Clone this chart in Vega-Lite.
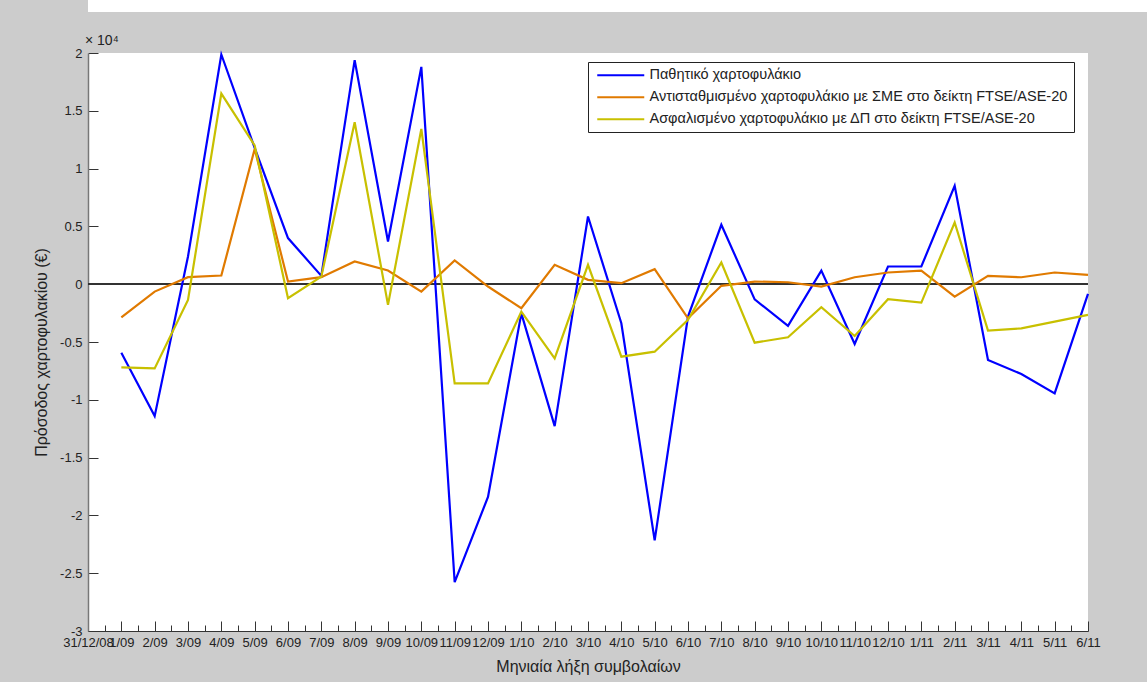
{
  "$schema": "https://vega.github.io/schema/vega-lite/v6.json",
  "background": "#cccccc",
  "padding": {"left": 33, "top": 0, "right": 0, "bottom": 8},
  "spacing": 22,
  "config": {"font": "Liberation Sans"},
  "resolve": {"legend": {"color": "independent"}},
  "vconcat": [
    {
      "width": 1060,
      "height": 12,
      "view": {"fill": "white", "stroke": null},
      "data": {"values": []},
      "mark": "point"
    },
    {
      "width": 1000,
      "height": 578,
      "view": {"fill": "white", "stroke": null},
      "title": {
        "text": "× 10⁴",
        "anchor": "start",
        "frame": "group",
        "fontSize": 14,
        "fontWeight": "normal",
        "color": "#222222",
        "offset": -1,
        "dx": -3
      },
      "data": {
        "values": [
          {"idx": 1, "month": "1/09", "Παθητικό χαρτοφυλάκιο": -5930, "Αντισταθμισμένο χαρτοφυλάκιο με ΣΜΕ στο δείκτη FTSE/ASE-20": -2860, "Ασφαλισμένο χαρτοφυλάκιο με ΔΠ στο δείκτη FTSE/ASE-20": -7190},
          {"idx": 2, "month": "2/09", "Παθητικό χαρτοφυλάκιο": -11410, "Αντισταθμισμένο χαρτοφυλάκιο με ΣΜΕ στο δείκτη FTSE/ASE-20": -640, "Ασφαλισμένο χαρτοφυλάκιο με ΔΠ στο δείκτη FTSE/ASE-20": -7280},
          {"idx": 3, "month": "3/09", "Παθητικό χαρτοφυλάκιο": 2400, "Αντισταθμισμένο χαρτοφυλάκιο με ΣΜΕ στο δείκτη FTSE/ASE-20": 610, "Ασφαλισμένο χαρτοφυλάκιο με ΔΠ στο δείκτη FTSE/ASE-20": -1360},
          {"idx": 4, "month": "4/09", "Παθητικό χαρτοφυλάκιο": 19870, "Αντισταθμισμένο χαρτοφυλάκιο με ΣΜΕ στο δείκτη FTSE/ASE-20": 750, "Ασφαλισμένο χαρτοφυλάκιο με ΔΠ στο δείκτη FTSE/ASE-20": 16490},
          {"idx": 5, "month": "5/09", "Παθητικό χαρτοφυλάκιο": 11800, "Αντισταθμισμένο χαρτοφυλάκιο με ΣΜΕ στο δείκτη FTSE/ASE-20": 11700, "Ασφαλισμένο χαρτοφυλάκιο με ΔΠ στο δείκτη FTSE/ASE-20": 12000},
          {"idx": 6, "month": "6/09", "Παθητικό χαρτοφυλάκιο": 3990, "Αντισταθμισμένο χαρτοφυλάκιο με ΣΜΕ στο δείκτη FTSE/ASE-20": 230, "Ασφαλισμένο χαρτοφυλάκιο με ΔΠ στο δείκτη FTSE/ASE-20": -1210},
          {"idx": 7, "month": "7/09", "Παθητικό χαρτοφυλάκιο": 720, "Αντισταθμισμένο χαρτοφυλάκιο με ΣΜΕ στο δείκτη FTSE/ASE-20": 610, "Ασφαλισμένο χαρτοφυλάκιο με ΔΠ στο δείκτη FTSE/ASE-20": 660},
          {"idx": 8, "month": "8/09", "Παθητικό χαρτοφυλάκιο": 19380, "Αντισταθμισμένο χαρτοφυλάκιο με ΣΜΕ στο δείκτη FTSE/ASE-20": 1960, "Ασφαλισμένο χαρτοφυλάκιο με ΔΠ στο δείκτη FTSE/ASE-20": 14010},
          {"idx": 9, "month": "9/09", "Παθητικό χαρτοφυλάκιο": 3700, "Αντισταθμισμένο χαρτοφυλάκιο με ΣΜΕ στο δείκτη FTSE/ASE-20": 1180, "Ασφαλισμένο χαρτοφυλάκιο με ΔΠ στο δείκτη FTSE/ASE-20": -1790},
          {"idx": 10, "month": "10/09", "Παθητικό χαρτοφυλάκιο": 18800, "Αντισταθμισμένο χαρτοφυλάκιο με ΣΜΕ στο δείκτη FTSE/ASE-20": -640, "Ασφαλισμένο χαρτοφυλάκιο με ΔΠ στο δείκτη FTSE/ASE-20": 13430},
          {"idx": 11, "month": "11/09", "Παθητικό χαρτοφυλάκιο": -25770, "Αντισταθμισμένο χαρτοφυλάκιο με ΣΜΕ στο δείκτη FTSE/ASE-20": 2050, "Ασφαλισμένο χαρτοφυλάκιο με ΔΠ στο δείκτη FTSE/ASE-20": -8580},
          {"idx": 12, "month": "12/09", "Παθητικό χαρτοφυλάκιο": -18400, "Αντισταθμισμένο χαρτοφυλάκιο με ΣΜΕ στο δείκτη FTSE/ASE-20": -200, "Ασφαλισμένο χαρτοφυλάκιο με ΔΠ στο δείκτη FTSE/ASE-20": -8580},
          {"idx": 13, "month": "1/10", "Παθητικό χαρτοφυλάκιο": -2520, "Αντισταθμισμένο χαρτοφυλάκιο με ΣΜΕ στο δείκτη FTSE/ASE-20": -2080, "Ασφαλισμένο χαρτοφυλάκιο με ΔΠ στο δείκτη FTSE/ASE-20": -2380},
          {"idx": 14, "month": "2/10", "Παθητικό χαρτοφυλάκιο": -12280, "Αντισταθμισμένο χαρτοφυλάκιο με ΣΜΕ στο δείκτη FTSE/ASE-20": 1680, "Ασφαλισμένο χαρτοφυλάκιο με ΔΠ στο δείκτη FTSE/ASE-20": -6420},
          {"idx": 15, "month": "3/10", "Παθητικό χαρτοφυλάκιο": 5860, "Αντισταθμισμένο χαρτοφυλάκιο με ΣΜΕ στο δείκτη FTSE/ASE-20": 380, "Ασφαλισμένο χαρτοφυλάκιο με ΔΠ στο δείκτη FTSE/ASE-20": 1680},
          {"idx": 16, "month": "4/10", "Παθητικό χαρτοφυλάκιο": -3380, "Αντισταθμισμένο χαρτοφυλάκιο με ΣΜΕ στο δείκτη FTSE/ASE-20": 90, "Ασφαλισμένο χαρτοφυλάκιο με ΔΠ στο δείκτη FTSE/ASE-20": -6270},
          {"idx": 17, "month": "5/10", "Παθητικό χαρτοφυλάκιο": -22160, "Αντισταθμισμένο χαρτοφυλάκιο με ΣΜΕ στο δείκτη FTSE/ASE-20": 1300, "Ασφαλισμένο χαρτοφυλάκιο με ΔΠ στο δείκτη FTSE/ASE-20": -5840},
          {"idx": 18, "month": "6/10", "Παθητικό χαρτοφυλάκιο": -2800, "Αντισταθμισμένο χαρτοφυλάκιο με ΣΜΕ στο δείκτη FTSE/ASE-20": -2950, "Ασφαλισμένο χαρτοφυλάκιο με ΔΠ στο δείκτη FTSE/ASE-20": -3090},
          {"idx": 19, "month": "7/10", "Παθητικό χαρτοφυλάκιο": 5140, "Αντισταθμισμένο χαρτοφυλάκιο με ΣΜΕ στο δείκτη FTSE/ASE-20": -140, "Ασφαλισμένο χαρτοφυλάκιο με ΔΠ στο δείκτη FTSE/ASE-20": 1880},
          {"idx": 20, "month": "8/10", "Παθητικό χαρτοφυλάκιο": -1310, "Αντισταθμισμένο χαρτοφυλάκιο με ΣΜΕ στο δείκτη FTSE/ASE-20": 230, "Ασφαλισμένο χαρτοφυλάκιο με ΔΠ στο δείκτη FTSE/ASE-20": -5060},
          {"idx": 21, "month": "9/10", "Παθητικό χαρτοφυλάκιο": -3610, "Αντισταθμισμένο χαρτοφυλάκιο με ΣΜΕ στο δείκτη FTSE/ASE-20": 170, "Ασφαλισμένο χαρτοφυλάκιο με ΔΠ στο δείκτη FTSE/ASE-20": -4590},
          {"idx": 22, "month": "10/10", "Παθητικό χαρτοφυλάκιο": 1180, "Αντισταθμισμένο χαρτοφυλάκιο με ΣΜΕ στο δείκτη FTSE/ASE-20": -200, "Ασφαλισμένο χαρτοφυλάκιο με ΔΠ στο δείκτη FTSE/ASE-20": -1990},
          {"idx": 23, "month": "11/10", "Παθητικό χαρτοφυλάκιο": -5170, "Αντισταθμισμένο χαρτοφυλάκιο με ΣΜΕ στο δείκτη FTSE/ASE-20": 600, "Ασφαλισμένο χαρτοφυλάκιο με ΔΠ στο δείκτη FTSE/ASE-20": -4480},
          {"idx": 24, "month": "12/10", "Παθητικό χαρτοφυλάκιο": 1530, "Αντισταθμισμένο χαρτοφυλάκιο με ΣΜΕ στο δείκτη FTSE/ASE-20": 1010, "Ασφαλισμένο χαρτοφυλάκιο με ΔΠ στο δείκτη FTSE/ASE-20": -1300},
          {"idx": 25, "month": "1/11", "Παθητικό χαρτοφυλάκιο": 1530, "Αντισταθμισμένο χαρτοφυλάκιο με ΣΜΕ στο δείκτη FTSE/ASE-20": 1180, "Ασφαλισμένο χαρτοφυλάκιο με ΔΠ στο δείκτη FTSE/ASE-20": -1590},
          {"idx": 26, "month": "2/11", "Παθητικό χαρτοφυλάκιο": 8520, "Αντισταθμισμένο χαρτοφυλάκιο με ΣΜΕ στο δείκτη FTSE/ASE-20": -1070, "Ασφαλισμένο χαρτοφυλάκιο με ΔΠ στο δείκτη FTSE/ASE-20": 5340},
          {"idx": 27, "month": "3/11", "Παθητικό χαρτοφυλάκιο": -6560, "Αντισταθμισμένο χαρτοφυλάκιο με ΣΜΕ στο δείκτη FTSE/ASE-20": 720, "Ασφαλισμένο χαρτοφυλάκιο με ΔΠ στο δείκτη FTSE/ASE-20": -4020},
          {"idx": 28, "month": "4/11", "Παθητικό χαρτοφυλάκιο": -7770, "Αντισταθμισμένο χαρτοφυλάκιο με ΣΜΕ στο δείκτη FTSE/ASE-20": 600, "Ασφαλισμένο χαρτοφυλάκιο με ΔΠ στο δείκτη FTSE/ASE-20": -3820},
          {"idx": 29, "month": "5/11", "Παθητικό χαρτοφυλάκιο": -9450, "Αντισταθμισμένο χαρτοφυλάκιο με ΣΜΕ στο δείκτη FTSE/ASE-20": 1010, "Ασφαλισμένο χαρτοφυλάκιο με ΔΠ στο δείκτη FTSE/ASE-20": -3240},
          {"idx": 30, "month": "6/11", "Παθητικό χαρτοφυλάκιο": -840, "Αντισταθμισμένο χαρτοφυλάκιο με ΣΜΕ στο δείκτη FTSE/ASE-20": 810, "Ασφαλισμένο χαρτοφυλάκιο με ΔΠ στο δείκτη FTSE/ASE-20": -2660}
        ]
      },
      "layer": [
        {
          "mark": {"type": "rule", "color": "#333333", "strokeWidth": 1.2},
          "encoding": {"y": {"datum": 0, "type": "quantitative"}}
        },
        {
          "transform": [
            {
              "fold": [
                "Παθητικό χαρτοφυλάκιο",
                "Αντισταθμισμένο χαρτοφυλάκιο με ΣΜΕ στο δείκτη FTSE/ASE-20",
                "Ασφαλισμένο χαρτοφυλάκιο με ΔΠ στο δείκτη FTSE/ASE-20"
              ],
              "as": ["series", "value"]
            }
          ],
          "mark": {"type": "line", "strokeWidth": 2.2, "clip": false},
          "encoding": {
            "x": {
              "field": "idx",
              "type": "quantitative",
              "scale": {"domain": [0, 30], "nice": false, "zero": false},
              "axis": {
                "title": "Μηνιαία λήξη συμβολαίων",
                "titleFontSize": 16,
                "titleFontWeight": "normal",
                "titleColor": "#222222",
                "titlePadding": 5,
                "values": [0, 0.5, 1, 1.5, 2, 2.5, 3, 3.5, 4, 4.5, 5, 5.5, 6, 6.5, 7, 7.5, 8, 8.5, 9, 9.5, 10, 10.5, 11, 11.5, 12, 12.5, 13, 13.5, 14, 14.5, 15, 15.5, 16, 16.5, 17, 17.5, 18, 18.5, 19, 19.5, 20, 20.5, 21, 21.5, 22, 22.5, 23, 23.5, 24, 24.5, 25, 25.5, 26, 26.5, 27, 27.5, 28, 28.5, 29, 29.5, 30],
                "labelExpr": "datum.value % 1 !== 0 ? '' : ['31/12/08','1/09','2/09','3/09','4/09','5/09','6/09','7/09','8/09','9/09','10/09','11/09','12/09','1/10','2/10','3/10','4/10','5/10','6/10','7/10','8/10','9/10','10/10','11/10','12/10','1/11','2/11','3/11','4/11','5/11','6/11'][datum.value]",
                "labelFontSize": 13,
                "labelColor": "#222222",
                "labelOverlap": false,
                "labelFlush": false,
                "labelBound": false,
                "labelPadding": 15,
                "tickSize": {"condition": {"test": "datum.value % 1 !== 0", "value": -6}, "value": -10},
                "tickColor": "#333333",
                "domainColor": "#333333",
                "grid": false
              }
            },
            "y": {
              "field": "value",
              "type": "quantitative",
              "scale": {"domain": [-30000, 20000], "nice": false, "zero": false},
              "axis": {
                "title": "Πρόσοδος χαρτοφυλακίου (€)",
                "titleFontSize": 16,
                "titleFontWeight": "normal",
                "titleColor": "#222222",
                "titlePadding": 10,
                "titleY": 299,
                "values": [-30000, -25000, -20000, -15000, -10000, -5000, 0, 5000, 10000, 15000, 20000],
                "labelExpr": "toString(datum.value / 10000)",
                "labelFontSize": 13,
                "labelColor": "#222222",
                "labelPadding": 16,
                "labelFlush": false,
                "tickSize": -10,
                "tickColor": "#333333",
                "domainColor": "#777777",
                "domainWidth": 1.5,
                "grid": false
              }
            },
            "color": {
              "field": "series",
              "type": "nominal",
              "scale": {
                "domain": [
                  "Παθητικό χαρτοφυλάκιο",
                  "Αντισταθμισμένο χαρτοφυλάκιο με ΣΜΕ στο δείκτη FTSE/ASE-20",
                  "Ασφαλισμένο χαρτοφυλάκιο με ΔΠ στο δείκτη FTSE/ASE-20"
                ],
                "range": ["#0000ff", "#e07a00", "#c8c000"]
              },
              "legend": {
                "title": null,
                "orient": "none",
                "legendX": 500,
                "legendY": 9,
                "fillColor": "white",
                "strokeColor": "#222222",
                "padding": 6,
                "symbolType": "M-1,0H8.4",
                "symbolSize": 100,
                "symbolStrokeWidth": 2.2,
                "symbolFillColor": "transparent",
                "symbolOffset": 1,
                "labelFontSize": 14.5,
                "labelColor": "#222222",
                "labelLimit": 0,
                "labelOffset": 40,
                "rowPadding": 7
              }
            }
          }
        }
      ]
    }
  ]
}
